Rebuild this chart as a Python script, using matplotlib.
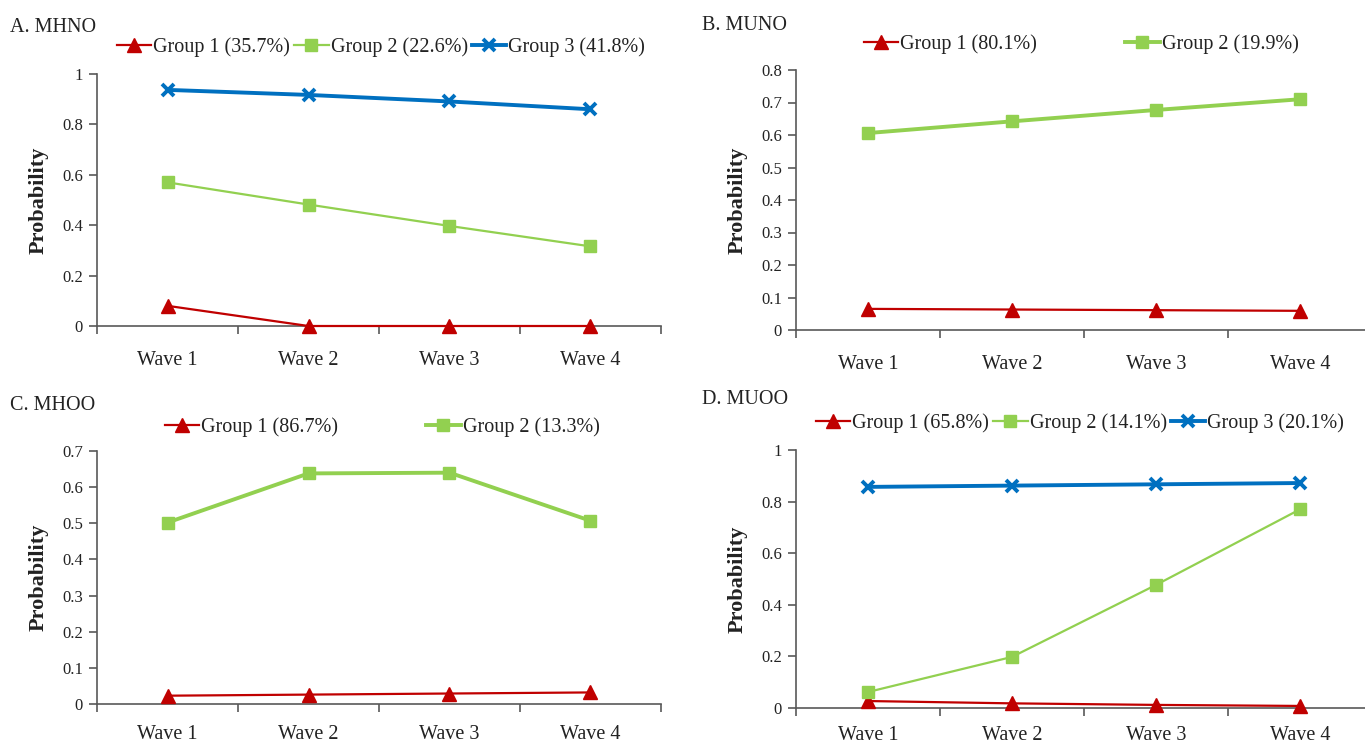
import numpy as np
import matplotlib
matplotlib.use("Agg")
import matplotlib.pyplot as plt

plt.rcParams['font.family'] = ['Liberation Serif', 'DejaVu Serif']

# data
waves = ["Wave 1", "Wave 2", "Wave 3", "Wave 4"]

a_labels = ["Group 1 (35.7%)", "Group 2 (22.6%)", "Group 3 (41.8%)"]
a_g1 = [0.08, 0.0, 0.0, 0.0]
a_g2 = [0.57, 0.482, 0.397, 0.316]
a_g3 = [0.937, 0.917, 0.891, 0.860]

b_labels = ["Group 1 (80.1%)", "Group 2 (19.9%)"]
b_g1 = [0.065, 0.063, 0.061, 0.059]
b_g2 = [0.606, 0.642, 0.677, 0.710]

c_labels = ["Group 1 (86.7%)", "Group 2 (13.3%)"]
c_g1 = [0.023, 0.026, 0.029, 0.032]
c_g2 = [0.502, 0.638, 0.640, 0.507]

d_labels = ["Group 1 (65.8%)", "Group 2 (14.1%)", "Group 3 (20.1%)"]
d_g1 = [0.027, 0.018, 0.012, 0.008]
d_g2 = [0.062, 0.198, 0.477, 0.770]
d_g3 = [0.857, 0.862, 0.867, 0.872]

RED = "#C00000"
GREEN = "#92D050"
BLUE = "#0070C0"
AXC = "#595959"
TXT = "#222222"

styles = {
    "red": dict(color=RED, marker="^", markersize=10),
    "green": dict(color=GREEN, marker="s", markersize=9),
    "blue": dict(color=BLUE, marker="x", markersize=9, markeredgewidth=2.8),
}

W, H = 1365, 746
fig = plt.figure(figsize=(W / 100, H / 100), dpi=100)


def px_axes(x0, x1, y_top, y_bot):
    return fig.add_axes([x0 / W, 1 - y_bot / H, (x1 - x0) / W, (y_bot - y_top) / H])


def setup(ax, ymax, step, fmt, xpad=18):
    x = np.arange(len(waves))
    ax.set_xlim(-0.5, len(waves) - 0.5)
    ax.set_ylim(0, ymax)
    yt = np.arange(0, ymax + step / 2, step)
    ax.set_yticks(yt)
    ax.set_yticklabels([fmt(v) for v in yt], fontsize=12, color=TXT)
    # tick marks sit between categories, labels at category centres
    ax.set_xticks(np.arange(-0.5, len(waves)), minor=False)
    ax.set_xticklabels([])
    ax.set_xticks(x, minor=True)
    ax.set_xticklabels(waves, minor=True, fontsize=14.5, color=TXT)
    ax.tick_params(axis="x", which="minor", length=0, pad=xpad)
    ax.tick_params(axis="x", which="major", length=6, color=AXC, width=1.2, direction="out")
    ax.tick_params(axis="y", length=6, color=AXC, width=1.2, direction="out", pad=4)
    for s in ["top", "right"]:
        ax.spines[s].set_visible(False)
    for s in ["left", "bottom"]:
        ax.spines[s].set_color(AXC)
        ax.spines[s].set_linewidth(1.2)
    ax.set_ylabel("Probability", fontsize=16, fontweight="bold", color=TXT, labelpad=10)
    ax.patch.set_alpha(0)


def draw(ax, series, thick):
    x = np.arange(len(waves))
    handles = []
    for (vals, key), t in zip(series, thick):
        ln, = ax.plot(x, vals, clip_on=False, zorder=3, lw=2.8 if t else 1.6, **styles[key])
        handles.append(ln)
    return handles


def fmt1(v):
    return "0" if abs(v) < 1e-9 else ("1" if abs(v - 1) < 1e-9 else f"{v:.1f}")


leg_kw = dict(loc="center", frameon=False, fontsize=14.5, handlelength=1.7,
              handletextpad=0.1, labelcolor=TXT)

# A
axA = px_axes(97, 661, 74, 326)
setup(axA, 1.0, 0.2, fmt1)
hA = draw(axA, [(a_g1, "red"), (a_g2, "green"), (a_g3, "blue")], [False, False, True])
fig.text(10 / W, 1 - 28 / H, "A. MHNO", fontsize=14.5, color=TXT, va="center", ha="left")
fig.legend(hA, a_labels, bbox_to_anchor=(381 / W, 1 - 47 / H), ncol=3,
           columnspacing=0.2, **leg_kw)

# B
axB = px_axes(796, 1372, 70, 330)
setup(axB, 0.8, 0.1, fmt1)
hB = draw(axB, [(b_g1, "red"), (b_g2, "green")], [False, True])
fig.text(702 / W, 1 - 25 / H, "B. MUNO", fontsize=14.5, color=TXT, va="center", ha="left")
fig.legend(hB, b_labels, bbox_to_anchor=(1081 / W, 1 - 44 / H), ncol=2,
           columnspacing=4.4, **leg_kw)

# C
axC = px_axes(97, 661, 451, 704)
setup(axC, 0.7, 0.1, fmt1, xpad=15)
hC = draw(axC, [(c_g1, "red"), (c_g2, "green")], [False, True])
fig.text(10 / W, 1 - 405 / H, "C. MHOO", fontsize=14.5, color=TXT, va="center", ha="left")
fig.legend(hC, c_labels, bbox_to_anchor=(382 / W, 1 - 427 / H), ncol=2,
           columnspacing=4.4, **leg_kw)

# D
axD = px_axes(796, 1372, 450, 708)
setup(axD, 1.0, 0.2, fmt1, xpad=13)
hD = draw(axD, [(d_g1, "red"), (d_g2, "green"), (d_g3, "blue")], [False, False, True])
fig.text(702 / W, 1 - 400 / H, "D. MUOO", fontsize=14.5, color=TXT, va="center", ha="left")
fig.legend(hD, d_labels, bbox_to_anchor=(1080 / W, 1 - 423 / H), ncol=3,
           columnspacing=0.2, **leg_kw)

fig.savefig("out.png", dpi=100)
